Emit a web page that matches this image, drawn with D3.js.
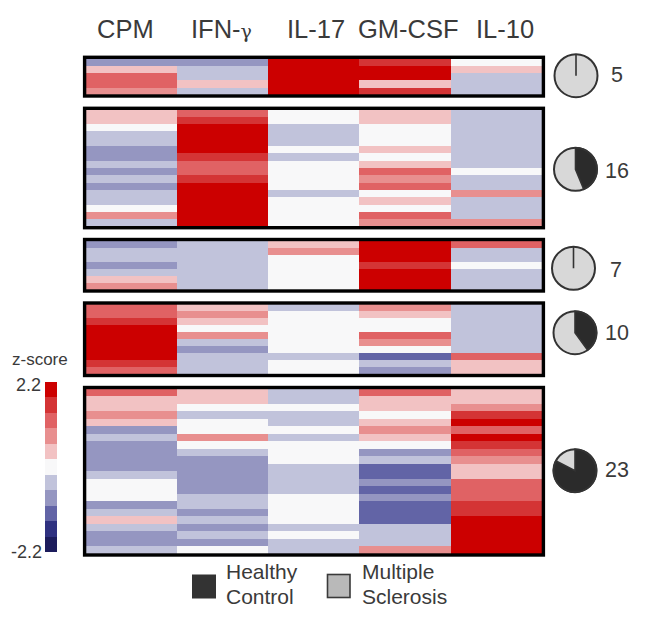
<!DOCTYPE html>
<html><head><meta charset="utf-8">
<script src="https://cdn.jsdelivr.net/npm/d3@7"></script>
<style>html,body{margin:0;padding:0;background:#fff}svg{display:block}text{font-family:"Liberation Sans",Arial,sans-serif;fill:#3a3a3a}</style>
</head><body><svg id="c" width="645" height="622"></svg>
<script>
const columns = ["CPM","IFN-γ","IL-17","GM-CSF","IL-10"];
const levels = [5,4,3,2,1,0,-1,-2,-3,-4,-5];
const levelColors = ["#cc0000","#d43435","#e06264","#e88f8f","#f2c2c3","#f8f8f9","#c1c3db","#9596c1","#6264a6","#2f3180","#1c1c5c"];
const clusterSizes = [5,16,7,10,23];
const healthy = [0,7,0,4,19];
const multipleSclerosis = [5,9,7,6,4];

const cluster1 = [
  [-2,1,3,3,2],
  [-2,-1,-1,1,-1],
  [5,5,5,5,5],
  [4,5,5,1,4],
  [0,1,-1,-1,-1]];
const cluster2 = [
  [1,1,0,-1,-1,-2,-2,-1,-2,-1,-2,-1,-1,0,2,-1],
  [3,4,5,5,5,5,4,3,3,4,5,5,5,5,5,5],
  [0,0,-1,-1,-1,0,-1,0,0,0,0,-1,0,0,0,0],
  [1,1,0,0,0,1,0,1,3,2,3,0,1,0,3,2],
  [-1,-1,-1,-1,-1,-1,-1,-1,0,-1,-1,2,-1,-1,-1,2]];
const cluster3 = [
  [-2,-1,-1,-2,-1,1,2],
  [-1,-1,-1,-1,-1,-1,-1],
  [1,2,0,0,0,0,0],
  [5,5,5,4,5,5,5],
  [3,-1,-1,0,-1,-1,-1]];
const cluster4 = [
  [3,3,4,5,5,5,5,5,4,3],
  [1,2,1,0,2,-1,-2,-1,-1,-1],
  [-1,0,0,0,0,0,0,-1,0,0],
  [2,1,0,0,3,2,0,-3,-1,-2],
  [-1,-1,-1,-1,-1,-1,-1,3,1,1]];
const cluster5 = [
  [3,1,1,2,1,-2,-1,-2,-2,-2,-2,-1,0,0,0,-2,-1,1,-1,-2,-2,-1],
  [1,1,0,-1,0,0,2,0,-1,-2,-2,-2,-2,-2,-1,-1,-2,-1,-2,-1,-2,0],
  [-1,-1,0,-1,-1,0,-1,0,0,0,-1,-1,-1,-1,0,0,0,0,-1,0,-1,-1],
  [3,1,1,0,1,2,1,0,-2,-1,-3,-3,-2,-3,-2,-3,-3,-3,-1,-1,-1,2],
  [1,1,2,4,5,3,5,4,3,2,1,1,3,3,3,4,4,5,5,5,5,5]];
const clusters = [cluster1,cluster2,cluster3,cluster4,cluster5];

// layout (pixels), kept apart from the data
const panelExtents = [[58.3,95],[109.3,226.7],[240.5,290],[304,374.5],[388.5,554]];
const pieCenters = [[576,75.7],[575.5,169.3],[573.5,268.3],[575,332.7],[575,470.7]];
const countX = [611,605,610,605,605];
const countY = [82,178,277,340,477];
const headerX = [97,191,287,358,476];

const svg = d3.select("#c");
const color = d3.scaleOrdinal(levels, levelColors);
const x = d3.scaleBand(d3.range(columns.length), [86,541.7]);

svg.append("g").selectAll("text").data(columns).join("text")
  .attr("x",(d,i)=>headerX[i]).attr("y",38).attr("font-size",25.5)
  .each(function(d){
    const t=d3.select(this);
    if(d.includes("γ")){
      t.append("tspan").text(d.replace("γ",""));
      t.append("tspan").style("font-family","'DejaVu Serif',serif").attr("font-size",19).text("γ");
    } else t.text(d);
  });

clusters.forEach((cl,p)=>{
  const ext=panelExtents[p];
  const g=svg.append("g");
  const y=d3.scaleBand(d3.range(cl[0].length), ext);
  cl.forEach((col,c)=>{
    g.append("g").selectAll("rect").data(col).join("rect")
      .attr("shape-rendering","crispEdges")
      .attr("x",x(c)).attr("width",x.bandwidth())
      .attr("y",(d,r)=>y(r)).attr("height",y.bandwidth())
      .attr("fill",d=>color(d));
  });
  g.append("rect").attr("x",84.6).attr("width",458.8)
    .attr("y",ext[0]-1).attr("height",ext[1]-ext[0]+2)
    .attr("fill","none").attr("stroke","#000").attr("stroke-width",3.4);
});

// pies
const pie=d3.pie().sort(null).value(d=>d);
const arc=d3.arc().innerRadius(0).outerRadius(21.5);
const pieFill=["#2b2b2b","#d8d8d8"];
clusterSizes.forEach((n,i)=>{
  const g=svg.append("g").attr("transform",`translate(${pieCenters[i]})`);
  const slices=pie([healthy[i],multipleSclerosis[i]]);
  g.selectAll("path").data([slices[1],slices[0]]).join("path")
    .attr("d",arc).attr("fill",d=>pieFill[d.index])
    .attr("stroke",d=>d.index===0?"#333":"none").attr("stroke-width",1.6);
  g.append("circle").attr("r",21.5).attr("fill","none").attr("stroke","#333").attr("stroke-width",2);
  svg.append("text").attr("x",countX[i]).attr("y",countY[i]).attr("font-size",21.5).text(n);
});

// colour bar
const barY=d3.scaleBand(levels,[382,552]);
svg.append("g").selectAll("rect").data(levels).join("rect")
  .attr("shape-rendering","crispEdges")
  .attr("x",45).attr("width",12).attr("y",d=>barY(d)).attr("height",barY.bandwidth())
  .attr("fill",d=>color(d));
svg.append("text").attr("x",12).attr("y",365).attr("font-size",17).text("z-score");
svg.append("text").attr("x",41).attr("y",391).attr("text-anchor","end").attr("font-size",18).text("2.2");
svg.append("text").attr("x",42).attr("y",558).attr("text-anchor","end").attr("font-size",18).text("-2.2");

// legend
const legendItems=[["Healthy","Control"],["Multiple","Sclerosis"]];
const legendBox=[192,327.5], legendText=[226,362], legendFill=["#333333","#b9b9b9"];
legendItems.forEach((lines,i)=>{
  svg.append("rect").attr("x",legendBox[i]).attr("y",574.5).attr("width",i?22.5:24).attr("height",i?23:24)
    .attr("fill",legendFill[i]).attr("stroke",i?"#3a3a3a":"none").attr("stroke-width",1.6);
  lines.forEach((s,j)=>svg.append("text").attr("x",legendText[i]).attr("y",579+j*25).attr("font-size",21).text(s));
});
</script></body></html>
